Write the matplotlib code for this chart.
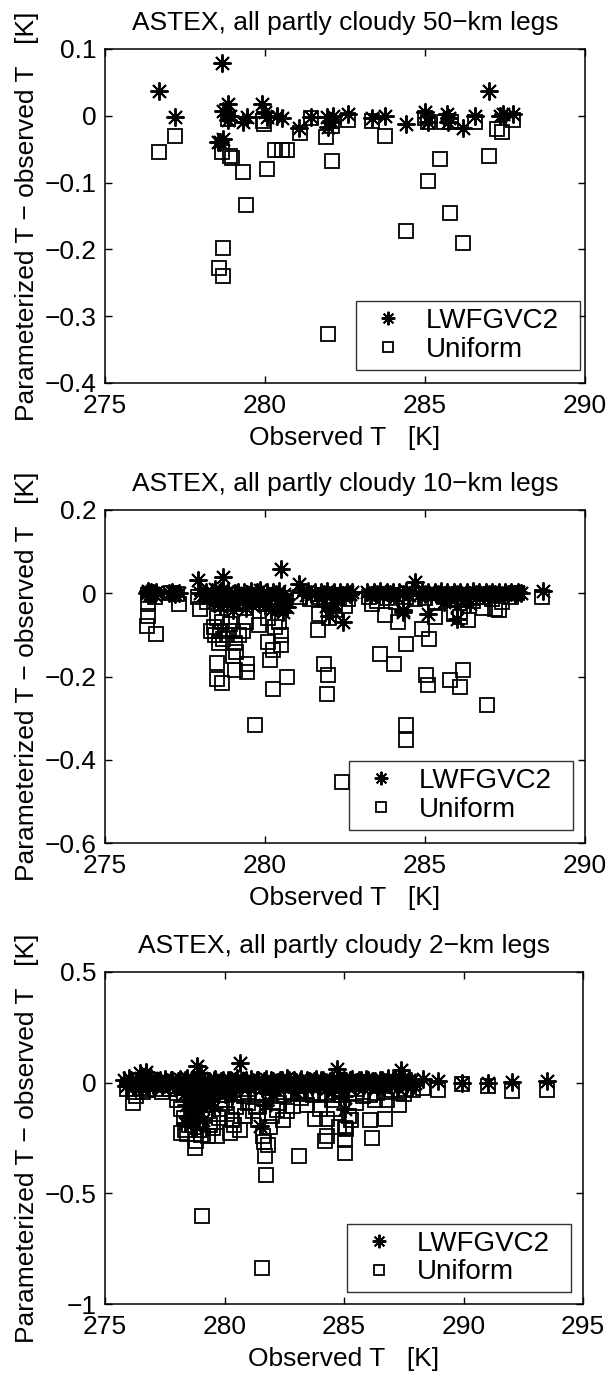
import numpy as np
import matplotlib
matplotlib.use("Agg")
import matplotlib.pyplot as plt

plt.rcParams['font.family'] = ['Liberation Sans', 'DejaVu Sans']

# ---- 50-km legs ----
t50_lw = [276.70, 277.19, 278.54, 278.70, 278.60, 278.67, 278.70, 278.85, 278.90, 278.85,
          279.43, 279.32, 279.90, 280.05, 280.00, 280.36, 280.52, 281.07, 281.45, 281.93,
          282.08, 281.98, 282.13, 282.60, 283.33, 283.75, 284.40, 285.00, 285.10, 285.70,
          285.75, 285.72, 286.20, 286.56, 287.00, 287.35, 287.45, 287.74]
dt50_lw = [0.037, -0.002, -0.039, -0.035, -0.040, 0.079, 0.007, 0.017, 0.000, -0.007,
           -0.002, -0.010, 0.017, -0.002, 0.005, 0.000, -0.004, -0.019, -0.002, -0.002,
           -0.010, -0.017, 0.000, 0.003, -0.003, 0.000, -0.013, 0.005, -0.010, 0.003,
           -0.003, -0.010, -0.019, 0.000, 0.037, 0.000, 0.002, 0.003]

t50_uni = [276.70, 277.19, 278.65, 278.90, 278.96, 279.32, 279.40, 278.68, 278.55, 278.70,
           278.85, 279.95, 279.97, 280.05, 280.31, 280.52, 280.68, 281.10, 281.45, 281.90,
           282.10, 282.10, 282.60, 281.98, 283.33, 283.75, 284.40, 285.00, 285.10, 285.10,
           285.47, 285.77, 285.60, 285.80, 286.20, 286.56, 287.00, 287.24, 287.40, 287.76]
dt50_uni = [-0.055, -0.031, -0.055, -0.060, -0.063, -0.084, -0.133, -0.198, -0.228, -0.240,
            -0.005, -0.008, -0.012, -0.080, -0.051, -0.051, -0.051, -0.026, -0.004, -0.032,
            -0.015, -0.067, -0.007, -0.326, -0.008, -0.030, -0.172, -0.003, -0.010, -0.097,
            -0.065, -0.145, -0.010, -0.010, -0.190, -0.010, -0.060, -0.020, -0.025, -0.007]

# ---- 10-km legs ----
t10_lw = [276.30, 276.35, 276.40, 276.45, 276.50, 276.55, 276.60,
          277.00, 277.10, 277.20, 277.30,
          277.90, 277.97, 278.05, 278.15, 278.25, 278.35, 278.45, 278.55, 278.62, 278.70,
          278.78, 278.85, 278.95, 279.05, 279.15, 279.25, 279.35, 279.45, 279.55, 279.65,
          279.75, 279.85, 279.95, 280.05, 280.15, 280.25, 280.35, 280.45, 280.50, 280.60, 280.70,
          278.40, 278.60, 278.80, 279.00, 279.20, 279.40, 279.60, 279.80, 280.00, 280.20,
          280.40, 280.55, 280.65, 278.50, 278.90, 279.30, 279.70, 280.10, 280.30,
          281.05, 281.15, 281.27, 281.35, 281.45, 281.55, 281.65, 281.75, 281.85, 281.95,
          282.05, 282.15, 282.25, 282.35, 282.45, 282.55, 282.65, 282.72,
          281.90, 282.00, 282.10, 282.20, 282.45,
          283.20, 283.30, 283.40, 283.50, 283.60, 283.70, 283.80, 283.90, 284.00, 284.10,
          284.20, 284.30, 284.40, 284.50, 284.60, 284.69, 284.80, 284.90, 285.00, 285.10,
          285.20, 285.30, 285.40, 285.50, 285.60, 285.70, 285.80, 285.90, 286.00, 286.10,
          286.20, 286.30, 286.40, 286.50, 286.60, 286.70, 286.80, 286.90, 287.00, 287.10,
          287.20, 287.30, 287.40, 287.50, 287.60, 287.70, 287.80, 287.90, 288.00,
          284.30, 284.30, 285.10, 286.00, 286.00, 285.60, 286.40,
          288.70]
dt10_lw = [0.000, 0.005, -0.003, 0.002, 0.000, -0.005, 0.003,
           0.000, 0.002, -0.002, 0.000,
           0.031, 0.000, -0.005, 0.004, -0.008, 0.002, 0.010, -0.004, 0.006, 0.038,
           -0.002, 0.005, -0.008, 0.000, 0.004, -0.006, 0.002, -0.003, 0.006, -0.010,
           0.003, 0.008, -0.004, 0.002, -0.006, 0.004, -0.002, 0.006, 0.058, -0.003, -0.033,
           -0.020, -0.030, -0.025, -0.040, -0.022, -0.035, -0.028, -0.018, -0.030, -0.040,
           -0.025, -0.045, -0.015, -0.012, -0.015, -0.012, -0.014, -0.016, -0.010,
           0.023, 0.002, -0.004, 0.005, -0.002, 0.004, -0.006, 0.002, -0.003, 0.005,
           -0.004, 0.003, -0.006, 0.002, -0.005, 0.004, -0.002, 0.003,
           -0.030, -0.055, -0.040, -0.025, -0.069,
           0.002, -0.004, 0.004, -0.002, 0.005, -0.005, 0.002, -0.003, 0.004, -0.006,
           0.002, -0.003, 0.005, -0.004, 0.003, 0.027, -0.005, 0.002, -0.003, 0.004,
           -0.006, 0.003, -0.002, 0.005, -0.004, 0.002, -0.005, 0.004, -0.002, 0.003,
           -0.006, 0.002, -0.004, 0.005, -0.002, 0.003, -0.005, 0.002, -0.003, 0.004,
           -0.002, 0.003, -0.005, 0.002, -0.003, 0.004, -0.002, 0.003, 0.000,
           -0.041, -0.045, -0.049, -0.061, -0.030, -0.020, -0.025,
           0.005]

t10_uni = [276.35, 276.55, 277.05, 277.25, 277.90, 278.20, 278.50, 278.80, 279.10, 279.40,
           279.70, 280.00, 280.30, 280.60, 281.10, 281.40, 281.70, 282.00, 282.30, 282.60,
           283.25, 283.50, 283.80, 284.10, 284.40, 284.70, 285.00, 285.30, 285.60, 285.90,
           286.20, 286.50, 286.80, 287.10, 287.40, 287.70, 287.86, 288.65,
           276.35, 276.35, 276.30, 276.60, 277.30, 277.97,
           278.30, 278.40, 278.45, 278.50, 278.55, 278.60, 278.65, 278.70, 278.80, 278.90,
           279.00, 279.05, 279.20, 279.30, 279.40, 279.80, 280.10,
           278.50, 278.50, 278.65, 279.00, 279.10, 279.05, 279.45, 279.45, 279.70,
           280.10, 280.25, 280.50, 280.15, 280.68, 280.26, 280.30, 280.45, 280.50,
           281.67, 281.85, 281.98, 281.93, 281.70, 282.00, 282.50, 282.20,
           283.33, 283.75, 284.17, 283.60, 284.03, 284.40, 284.40, 284.40, 284.90, 285.14,
           285.03, 285.10, 285.78, 286.20, 286.10, 286.93, 285.30, 285.90, 286.10, 286.35,
           286.80, 287.20, 287.30, 282.40]
dt10_uni = [-0.005, -0.010, 0.000, -0.003, -0.010, -0.020, -0.015, -0.025, -0.012, -0.020,
            -0.015, -0.010, -0.020, -0.012, -0.008, -0.015, -0.010, -0.020, -0.012, -0.015,
            -0.010, -0.018, -0.012, -0.020, -0.010, -0.015, -0.012, -0.020, -0.010, -0.015,
            -0.012, -0.018, -0.010, -0.015, -0.020, -0.010, 0.000, -0.010,
            -0.025, -0.054, -0.079, -0.097, -0.025, -0.039,
            -0.090, -0.080, -0.100, -0.060, -0.120, -0.090, -0.070, -0.110, -0.100, -0.075,
            -0.090, -0.120, -0.100, -0.090, -0.070, -0.077, -0.060,
            -0.167, -0.207, -0.215, -0.150, -0.142, -0.185, -0.190, -0.170, -0.317,
            -0.117, -0.137, -0.125, -0.161, -0.201, -0.229, -0.080, -0.070, -0.100,
            -0.089, -0.171, -0.197, -0.241, -0.050, -0.060, -0.030, -0.040,
            -0.025, -0.053, -0.069, -0.145, -0.169, -0.121, -0.317, -0.352, -0.087, -0.111,
            -0.197, -0.221, -0.208, -0.185, -0.225, -0.268, -0.057, -0.050, -0.057, -0.065,
            -0.035, -0.037, -0.040, -0.453]

# ---- 2-km legs ----
t2_lw = [275.80, 275.95, 276.10, 276.25, 276.40, 276.55, 276.70, 276.85, 277.00, 277.15,
         277.30, 277.45, 277.60, 277.75, 277.90, 278.05, 278.20, 278.35, 278.50, 278.65,
         278.80, 278.95, 279.10, 279.25, 279.40, 279.55, 279.70, 279.85, 280.00, 280.15,
         280.30, 280.45, 280.60, 280.75, 280.90, 281.05, 281.20, 281.35, 281.50, 281.65,
         281.80, 281.95, 282.10, 282.25, 282.40, 282.55, 282.70, 282.85, 283.00, 283.15,
         283.30, 283.45, 283.60, 283.75, 283.90, 284.05, 284.20, 284.35, 284.50, 284.65,
         284.80, 284.95, 285.10, 285.25, 285.40, 285.55, 285.70, 285.85, 286.00, 286.15,
         286.30, 286.45, 286.60, 286.75, 286.90, 287.05, 287.20, 287.35, 287.50, 287.65,
         287.80, 287.95,
         275.88, 276.02, 276.18, 276.32, 276.48, 276.62, 276.78, 276.92, 277.08, 277.22,
         277.38, 277.52, 277.68, 277.82, 277.98, 278.12, 278.28, 278.42, 278.58, 278.72,
         278.88, 279.02, 279.18, 279.32, 279.48, 279.62, 279.78, 279.92, 280.08, 280.22,
         280.38, 280.52, 280.68, 280.82, 280.98, 281.12, 281.28, 281.42, 281.58, 281.72,
         281.88, 282.02, 282.18, 282.32, 282.48, 282.62, 282.78, 282.92, 283.08, 283.22,
         283.38, 283.52, 283.68, 283.82, 283.98, 284.12, 284.28, 284.42, 284.58, 284.72,
         284.88, 285.02, 285.18, 285.32, 285.48, 285.62, 285.78, 285.92, 286.08, 286.22,
         286.38, 286.52, 286.68, 286.82, 286.98, 287.12, 287.28, 287.42, 287.58, 287.72,
         287.88,
         276.45, 276.70, 278.85, 279.00, 280.65, 284.70, 287.40,
         278.30, 278.40, 278.50, 278.60, 278.70, 278.80, 278.90, 279.00, 279.10, 279.20,
         279.40, 278.45, 279.60, 280.00, 280.30, 281.49, 281.70, 282.00, 283.00, 284.50,
         285.00, 285.04, 278.35, 278.55, 278.75, 278.95, 279.15, 279.35, 279.55,
         288.32, 288.95, 289.92, 291.04, 292.02, 293.48]
dt2_lw = [0.010, -0.006, 0.012, -0.010, 0.004, 0.014, -0.004, 0.009, -0.012, 0.006,
          0.013, -0.008, 0.002, 0.011, -0.010, 0.007, -0.004, 0.012, -0.009, 0.005,
          0.014, -0.006, 0.010, -0.012, 0.003, 0.012, -0.007, 0.008, -0.010, 0.013,
          -0.003, 0.009, -0.011, 0.006, 0.012, -0.008, 0.004, 0.011, -0.010, 0.007,
          -0.005, 0.013, -0.009, 0.005, 0.010, -0.006, 0.012, -0.011, 0.004, 0.009,
          -0.007, 0.013, -0.003, 0.008, -0.010, 0.011, 0.002, -0.008, 0.012, -0.005,
          0.009, -0.011, 0.006, 0.013, -0.007, 0.004, 0.010, -0.009, 0.012, -0.004,
          0.008, -0.010, 0.011, 0.003, -0.006, 0.012, -0.008, 0.007, 0.010, -0.005,
          0.009, -0.002,
          -0.015, 0.020, -0.018, 0.008, -0.020, 0.018, -0.012, 0.022, -0.016, 0.006,
          -0.020, 0.016, -0.014, 0.010, -0.022, 0.018, -0.030, 0.020, -0.025, 0.012,
          -0.035, 0.022, -0.028, 0.008, -0.020, 0.016, -0.018, 0.010, -0.022, 0.014,
          -0.016, 0.020, -0.018, 0.006, -0.020, 0.016, -0.014, 0.012, -0.022, 0.018,
          -0.016, 0.008, -0.020, 0.014, -0.018, 0.020, -0.012, 0.010, -0.022, 0.016,
          -0.018, 0.006, -0.020, 0.018, -0.014, 0.012, -0.022, 0.008, -0.016, 0.020,
          -0.018, 0.010, -0.020, 0.016, -0.014, 0.012, -0.022, 0.018, -0.016, 0.006,
          -0.020, 0.014, -0.018, 0.020, -0.012, 0.010, -0.022, 0.016, -0.014, 0.012,
          -0.010,
          0.045, 0.050, 0.074, 0.045, 0.089, 0.060, 0.056,
          -0.050, -0.100, -0.150, -0.080, -0.120, -0.200, -0.060, -0.100, -0.170, -0.050,
          -0.080, -0.030, -0.040, -0.050, -0.060, -0.197, -0.100, -0.050, -0.040, -0.040,
          -0.060, -0.120, -0.180, -0.060, -0.150, -0.130, -0.090, -0.040, -0.110,
          0.017, 0.006, 0.000, 0.000, 0.003, 0.006]

t2_uni = [275.90, 276.20, 276.50, 276.80, 277.10, 277.40, 277.70, 278.00, 278.30, 278.60,
          278.90, 279.20, 279.50, 279.80, 280.10, 280.40, 280.70, 281.00, 281.30, 281.60,
          281.90, 282.20, 282.50, 282.80, 283.10, 283.40, 283.70, 284.00, 284.30, 284.60,
          284.90, 285.20, 285.50, 285.80, 286.10, 286.40, 286.70, 287.00, 287.30, 287.60,
          287.90,
          276.18, 276.30, 276.60, 277.70, 278.00, 278.20, 278.30, 278.35, 278.20, 278.50,
          278.60, 278.77, 278.80, 278.90, 278.97, 279.05, 279.10, 279.20, 279.30, 279.53,
          279.67, 279.80, 280.00, 280.10, 280.23, 280.30, 280.50, 280.65, 280.80, 281.00,
          281.20, 281.40, 281.58, 281.60, 281.65, 281.70, 281.72, 281.84, 281.90, 282.00,
          282.18, 282.30, 282.46, 282.60, 282.88, 283.10, 283.20, 283.44, 283.60, 283.80,
          284.00, 284.20, 284.28, 284.30, 284.50, 284.60, 284.80, 285.04, 285.04, 285.04,
          285.10, 285.20, 285.30, 285.50, 285.80, 286.10, 286.16, 286.30, 286.70, 286.80,
          287.30, 287.50, 278.45, 278.70, 279.00, 279.40, 279.75, 280.40, 280.85, 281.30,
          288.32, 288.95, 289.92, 291.04, 292.02, 293.48]
dt2_uni = [-0.030, -0.040, -0.025, -0.035, -0.030, -0.040, -0.030, -0.045, -0.050, -0.040,
           -0.060, -0.045, -0.050, -0.040, -0.055, -0.045, -0.050, -0.040, -0.055, -0.045,
           -0.050, -0.040, -0.055, -0.045, -0.050, -0.040, -0.055, -0.045, -0.050, -0.040,
           -0.055, -0.045, -0.050, -0.040, -0.055, -0.045, -0.040, -0.035, -0.045, -0.030,
           -0.035,
           -0.092, -0.060, -0.040, -0.030, -0.080, -0.120, -0.160, -0.212, -0.227, -0.190,
           -0.140, -0.295, -0.265, -0.180, -0.212, -0.604, -0.100, -0.150, -0.240, -0.205,
           -0.243, -0.120, -0.090, -0.140, -0.227, -0.167, -0.110, -0.212, -0.060, -0.090,
           -0.130, -0.170, -0.837, -0.240, -0.270, -0.333, -0.416, -0.280, -0.200, -0.150,
           -0.122, -0.090, -0.167, -0.130, -0.107, -0.333, -0.070, -0.100, -0.050, -0.165,
           -0.120, -0.265, -0.243, -0.165, -0.080, -0.120, -0.200, -0.317, -0.258, -0.205,
           -0.210, -0.150, -0.167, -0.090, -0.060, -0.167, -0.250, -0.080, -0.164, -0.080,
           -0.100, -0.050, -0.230, -0.170, -0.235, -0.190, -0.160, -0.190, -0.150, -0.110,
           -0.024, -0.032, -0.008, -0.015, -0.038, -0.032]

titles = ["ASTEX, all partly cloudy 50\u2212km legs",
          "ASTEX, all partly cloudy 10\u2212km legs",
          "ASTEX, all partly cloudy 2\u2212km legs"]
yticks = [[0.1, 0, -0.1, -0.2, -0.3, -0.4],
          [0.2, 0, -0.2, -0.4, -0.6],
          [0.5, 0, -0.5, -1]]
yticklabels = [["0.1", "0", "\u22120.1", "\u22120.2", "\u22120.3", "\u22120.4"],
               ["0.2", "0", "\u22120.2", "\u22120.4", "\u22120.6"],
               ["0.5", "0", "\u22120.5", "\u22121"]]
xticks = [[275, 280, 285, 290], [275, 280, 285, 290], [275, 280, 285, 290, 295]]

data = [(t50_lw, dt50_lw, t50_uni, dt50_uni),
        (t10_lw, dt10_lw, t10_uni, dt10_uni),
        (t2_lw, dt2_lw, t2_uni, dt2_uni)]

fig = plt.figure(figsize=(6.08, 13.75), dpi=100)
# axes boxes in figure fractions (left, bottom, width, height)
boxes = [(0.1727, 0.7215, 0.7895, 0.2429),
         (0.1727, 0.3869, 0.7895, 0.2422),
         (0.1727, 0.0516, 0.7862, 0.2415)]
# legend anchor (lower right corner) per panel, in axes fractions
leg_anchor = [(0.99, 0.04), (0.975, 0.04), (0.975, 0.035)]

fs = 19
for i in range(3):
    ax = fig.add_axes(boxes[i])
    tl, dl, tu, du = data[i]
    # trailing spaces widen the legend box on the right like the original
    ax.plot(tl, dl, linestyle='none', marker=(8, 2, 0), ms=13, mew=1.4,
            color='black', label='LWFGVC2  ')
    ax.plot(tu, du, linestyle='none', marker='s', ms=10, mew=1.3,
            mfc='none', mec='black', label='Uniform')
    ax.set_xlim(xticks[i][0], xticks[i][-1])
    ax.set_ylim(yticks[i][-1], yticks[i][0])
    ax.set_xticks(xticks[i])
    ax.set_xticklabels([str(v) for v in xticks[i]], fontsize=fs)
    ax.set_yticks(yticks[i])
    ax.set_yticklabels(yticklabels[i], fontsize=fs)
    ax.tick_params(direction='in', length=5, width=1, top=True, right=True)
    ax.tick_params(axis='x', pad=8)
    ax.tick_params(axis='y', pad=6)
    for s in ax.spines.values():
        s.set_linewidth(1.1)
    ax.set_title(titles[i], fontsize=fs, pad=14)
    ax.set_xlabel("Observed T   [K]", fontsize=fs, labelpad=6)
    ax.set_ylabel("Parameterized T \u2212 observed T   [K]", fontsize=fs, labelpad=4)
    leg = ax.legend(loc='lower right', bbox_to_anchor=leg_anchor[i], borderaxespad=0,
                    fontsize=20, frameon=True, fancybox=False, edgecolor='black',
                    handlelength=1.8, handletextpad=0.45, labelspacing=0.1,
                    borderpad=0.25, markerscale=0.75)
    leg.get_frame().set_linewidth(1.0)

fig.savefig("out.png", dpi=100)
